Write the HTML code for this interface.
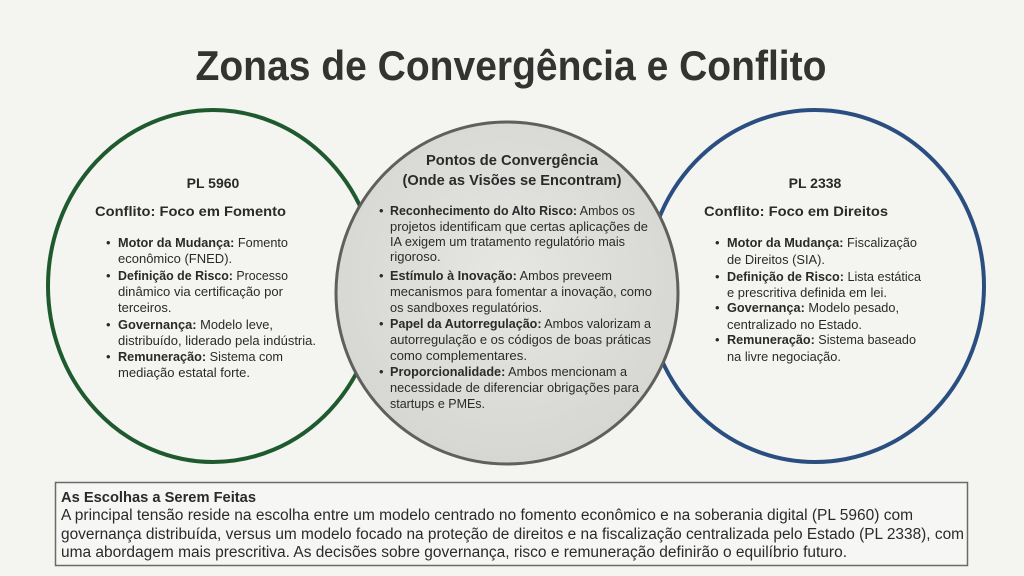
<!DOCTYPE html>
<html><head><meta charset="utf-8"><style>
html,body{margin:0;padding:0;background:#f4f4f1;}
svg{display:block;}
text{font-family:"Liberation Sans",sans-serif;fill:#2a2a2a;}
.b{font-weight:bold;}
.t{font-size:13px;}
</style></head><body>
<svg width="1024" height="576" viewBox="0 0 1024 576" xmlns="http://www.w3.org/2000/svg">
<defs>
<radialGradient id="g" cx="50%" cy="45%" r="55%">
<stop offset="0" stop-color="#e6e6e3"/><stop offset="1" stop-color="#d6d6d3"/>
</radialGradient>
</defs>
<rect width="1024" height="576" fill="#f4f4f1"/>
<text x="511" y="80" text-anchor="middle" class="b" font-size="42" textLength="631" lengthAdjust="spacingAndGlyphs" style="fill:#333331">Zonas de Convergência e Conflito</text>

<ellipse cx="213" cy="286" rx="165" ry="176" fill="none" stroke="#1f5a2f" stroke-width="4"/>
<ellipse cx="815" cy="286" rx="169" ry="176" fill="none" stroke="#2b4e80" stroke-width="4"/>
<ellipse cx="507" cy="293" rx="171" ry="171" fill="url(#g)" stroke="#5f5f5d" stroke-width="3"/>

<!-- left -->
<text x="213" y="188" text-anchor="middle" class="b" font-size="14">PL 5960</text>
<text x="95" y="216" class="b" font-size="14" textLength="191" lengthAdjust="spacingAndGlyphs">Conflito: Foco em Fomento</text>
<g class="t">
<text x="106" y="247">•</text>
<text x="118" y="247" textLength="170" lengthAdjust="spacingAndGlyphs"><tspan class="b">Motor da Mudança:</tspan> Fomento</text>
<text x="118" y="263">econômico (FNED).</text>
<text x="106" y="280">•</text>
<text x="118" y="280" textLength="170" lengthAdjust="spacingAndGlyphs"><tspan class="b">Definição de Risco:</tspan> Processo</text>
<text x="118" y="296" textLength="165" lengthAdjust="spacingAndGlyphs">dinâmico via certificação por</text>
<text x="118" y="312">terceiros.</text>
<text x="106" y="329">•</text>
<text x="118" y="329" textLength="155" lengthAdjust="spacingAndGlyphs"><tspan class="b">Governança:</tspan> Modelo leve,</text>
<text x="118" y="345" textLength="198" lengthAdjust="spacingAndGlyphs">distribuído, liderado pela indústria.</text>
<text x="106" y="361">•</text>
<text x="118" y="361" textLength="165" lengthAdjust="spacingAndGlyphs"><tspan class="b">Remuneração:</tspan> Sistema com</text>
<text x="118" y="377" textLength="132" lengthAdjust="spacingAndGlyphs">mediação estatal forte.</text>
</g>

<!-- center -->
<text x="512" y="165" text-anchor="middle" class="b" font-size="15" textLength="172" lengthAdjust="spacingAndGlyphs">Pontos de Convergência</text>
<text x="512" y="185" text-anchor="middle" class="b" font-size="15" textLength="219" lengthAdjust="spacingAndGlyphs">(Onde as Visões se Encontram)</text>
<g class="t">
<text x="379" y="215">•</text>
<text x="390" y="215" textLength="245" lengthAdjust="spacingAndGlyphs"><tspan class="b">Reconhecimento do Alto Risco:</tspan> Ambos os</text>
<text x="390" y="231" textLength="258" lengthAdjust="spacingAndGlyphs">projetos identificam que certas aplicações de</text>
<text x="390" y="246" textLength="235" lengthAdjust="spacingAndGlyphs">IA exigem um tratamento regulatório mais</text>
<text x="390" y="261">rigoroso.</text>
<text x="379" y="280">•</text>
<text x="390" y="280" textLength="222" lengthAdjust="spacingAndGlyphs"><tspan class="b">Estímulo à Inovação:</tspan> Ambos preveem</text>
<text x="390" y="296" textLength="262" lengthAdjust="spacingAndGlyphs">mecanismos para fomentar a inovação, como</text>
<text x="390" y="312" textLength="152" lengthAdjust="spacingAndGlyphs">os sandboxes regulatórios.</text>
<text x="379" y="328">•</text>
<text x="390" y="328" textLength="261" lengthAdjust="spacingAndGlyphs"><tspan class="b">Papel da Autorregulação:</tspan> Ambos valorizam a</text>
<text x="390" y="344" textLength="261" lengthAdjust="spacingAndGlyphs">autorregulação e os códigos de boas práticas</text>
<text x="390" y="360" textLength="137" lengthAdjust="spacingAndGlyphs">como complementares.</text>
<text x="379" y="376">•</text>
<text x="390" y="376" textLength="237" lengthAdjust="spacingAndGlyphs"><tspan class="b">Proporcionalidade:</tspan> Ambos mencionam a</text>
<text x="390" y="392" textLength="249" lengthAdjust="spacingAndGlyphs">necessidade de diferenciar obrigações para</text>
<text x="390" y="408" textLength="95" lengthAdjust="spacingAndGlyphs">startups e PMEs.</text>
</g>

<!-- right -->
<text x="815" y="188" text-anchor="middle" class="b" font-size="14">PL 2338</text>
<text x="704" y="216" class="b" font-size="14" textLength="184" lengthAdjust="spacingAndGlyphs">Conflito: Foco em Direitos</text>
<g class="t">
<text x="715" y="247">•</text>
<text x="727" y="247" textLength="190" lengthAdjust="spacingAndGlyphs"><tspan class="b">Motor da Mudança:</tspan> Fiscalização</text>
<text x="727" y="264" textLength="98" lengthAdjust="spacingAndGlyphs">de Direitos (SIA).</text>
<text x="715" y="281">•</text>
<text x="727" y="281" textLength="194" lengthAdjust="spacingAndGlyphs"><tspan class="b">Definição de Risco:</tspan> Lista estática</text>
<text x="727" y="297" textLength="160" lengthAdjust="spacingAndGlyphs">e prescritiva definida em lei.</text>
<text x="715" y="312">•</text>
<text x="727" y="312" textLength="172" lengthAdjust="spacingAndGlyphs"><tspan class="b">Governança:</tspan> Modelo pesado,</text>
<text x="727" y="329" textLength="135" lengthAdjust="spacingAndGlyphs">centralizado no Estado.</text>
<text x="715" y="344">•</text>
<text x="727" y="344" textLength="189" lengthAdjust="spacingAndGlyphs"><tspan class="b">Remuneração:</tspan> Sistema baseado</text>
<text x="727" y="361" textLength="114" lengthAdjust="spacingAndGlyphs">na livre negociação.</text>
</g>

<!-- bottom box -->
<rect x="55.5" y="482.5" width="912" height="83" fill="#f6f6f4" stroke="#6a6a68" stroke-width="1.5"/>
<text x="61" y="502" class="b" font-size="15" textLength="195" lengthAdjust="spacingAndGlyphs">As Escolhas a Serem Feitas</text>
<g font-size="15.5">
<text x="61" y="520" textLength="852" lengthAdjust="spacingAndGlyphs">A principal tensão reside na escolha entre um modelo centrado no fomento econômico e na soberania digital (PL 5960) com</text>
<text x="61" y="539" textLength="903" lengthAdjust="spacingAndGlyphs">governança distribuída, versus um modelo focado na proteção de direitos e na fiscalização centralizada pelo Estado (PL 2338), com</text>
<text x="61" y="557" textLength="786" lengthAdjust="spacingAndGlyphs">uma abordagem mais prescritiva. As decisões sobre governança, risco e remuneração definirão o equilíbrio futuro.</text>
</g>
</svg>
</body></html>
